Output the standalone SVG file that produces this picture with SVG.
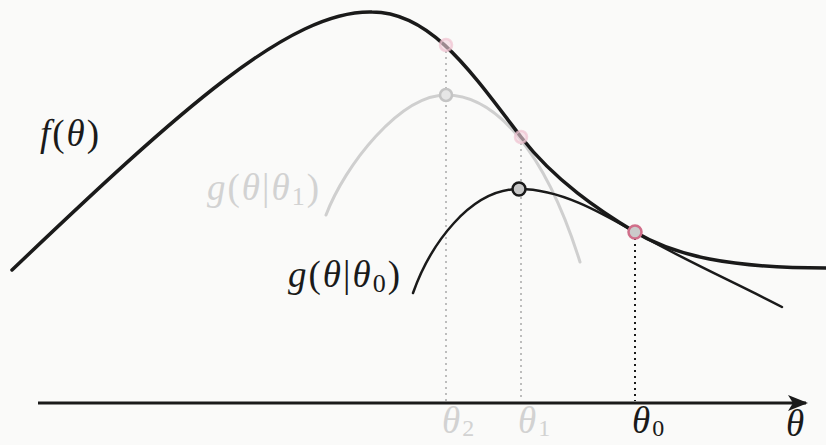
<svg xmlns="http://www.w3.org/2000/svg" width="826" height="445" viewBox="0 0 826 445">
<defs>
<marker id="arr" viewBox="0 0 20 20" refX="18" refY="10" markerWidth="20" markerHeight="20" markerUnits="userSpaceOnUse" orient="auto">
<path d="M0,2 L20,10 L0,18 L5,10 Z" fill="#1a1a1a"/>
</marker>
</defs>
<rect width="826" height="445" fill="#fafaf9"/>
<g id="connectors">
<line x1="446" y1="45" x2="446" y2="401" stroke="#bdbdbd" stroke-width="2" stroke-dasharray="2,4"/>
<line x1="521" y1="137" x2="521" y2="401" stroke="#bdbdbd" stroke-width="2" stroke-dasharray="2,4"/>
<line x1="635" y1="232" x2="635" y2="401" stroke="#1a1a1a" stroke-width="2" stroke-dasharray="2,4"/>
<line x1="38" y1="403" x2="806" y2="403" stroke="#1a1a1a" stroke-width="3" marker-end="url(#arr)"/>
</g>
<g id="g1-curve">
<path d="M326,215 C345,165 400,95 446,95 C495,95 545,150 580,262" fill="none" stroke="#cfcfcf" stroke-width="3" stroke-linecap="round"/>
</g>
<g id="f-curve">
<path d="M12,270 C180,110 290,10 372,12 C430,12 470,70 521,137 C555,181 600,211 635,232 C675,256 730,268 826,268" fill="none" stroke="#1a1a1a" stroke-width="3.5" stroke-linecap="round"/>
</g>
<g id="g0-curve">
<path d="M413,293 C430,245 470,189 519,189 C560,189 600,212 635,232 C680,258 740,285 782,307" fill="none" stroke="#1a1a1a" stroke-width="2.5" stroke-linecap="round"/>
</g>
<g id="points">
<circle cx="446" cy="45" r="6" fill="#f3d3dd" fill-opacity="0.6" stroke="#efc3d1" stroke-width="2.5" stroke-opacity="0.7"/>
<circle cx="521" cy="137" r="6" fill="#f3d3dd" fill-opacity="0.6" stroke="#efc3d1" stroke-width="2.5" stroke-opacity="0.7"/>
<circle cx="446" cy="95" r="6" fill="#e6e6e6" stroke="#c4c4c4" stroke-width="2.5"/>
<circle cx="519" cy="189" r="6.5" fill="#c8c8c8" stroke="#1a1a1a" stroke-width="2.5"/>
<circle cx="635" cy="232" r="6.5" fill="#cacaca" stroke="#d06e8a" stroke-width="2.5"/>
</g>
<g font-family="'Liberation Serif', 'DejaVu Serif', serif" font-size="37" letter-spacing="2">
<g id="label-f">
<text x="40" y="146" fill="#1a1a1a"><tspan font-style="italic">f</tspan>(<tspan font-style="italic">θ</tspan>)</text>
</g>
<g id="label-g1">
<text x="207" y="200" fill="#d2d2d2"><tspan font-style="italic">g</tspan>(<tspan font-style="italic">θ</tspan>|<tspan font-style="italic">θ</tspan><tspan font-size="26" dy="5">1</tspan><tspan dy="-5">)</tspan></text>
</g>
<g id="label-g0">
<text x="288" y="287" fill="#1a1a1a"><tspan font-style="italic">g</tspan>(<tspan font-style="italic">θ</tspan>|<tspan font-style="italic">θ</tspan><tspan font-size="26" dy="5">0</tspan><tspan dy="-5">)</tspan></text>
</g>
<g id="axis-labels">
<text x="442" y="433" fill="#d2d2d2"><tspan font-style="italic">θ</tspan><tspan font-size="24" dy="3">2</tspan></text>
<text x="518" y="433" fill="#d2d2d2"><tspan font-style="italic">θ</tspan><tspan font-size="24" dy="3">1</tspan></text>
<text x="632" y="433" fill="#1a1a1a"><tspan font-style="italic">θ</tspan><tspan font-size="24" dy="3">0</tspan></text>
<text x="786" y="436" fill="#1a1a1a" font-style="italic">θ</text>
</g>
</g>
</svg>
